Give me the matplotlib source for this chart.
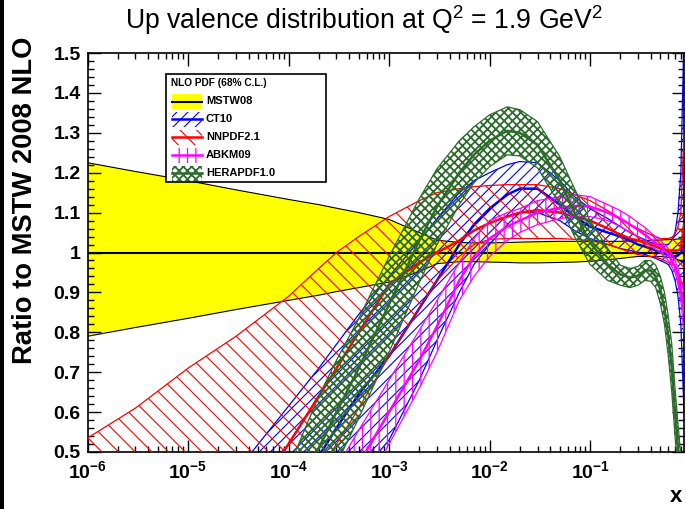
import matplotlib
matplotlib.use("Agg")
import matplotlib.pyplot as plt
from matplotlib.patches import Rectangle
from matplotlib.lines import Line2D
from matplotlib.ticker import FixedLocator, LogLocator, MultipleLocator, NullFormatter

plt.rcParams['font.family'] = ['Liberation Sans', 'DejaVu Sans']
plt.rcParams['mathtext.fontset'] = 'custom'
plt.rcParams['mathtext.rm'] = 'Liberation Sans'
plt.rcParams['mathtext.bf'] = 'Liberation Sans:bold'
plt.rcParams['mathtext.it'] = 'Liberation Sans:italic'
plt.rcParams['hatch.linewidth'] = 0.8

# ---------------- data ----------------
x = [1e-6, 3e-6, 1e-5, 3e-5, 1e-4, 2e-4, 3e-4, 5e-4, 1e-3, 2e-3, 3e-3, 5e-3, 7e-3,
     1e-2, 1.5e-2, 2e-2, 3e-2, 5e-2, 7e-2, 0.1, 0.15, 0.2, 0.25, 0.3, 0.35, 0.4, 0.45,
     0.5, 0.55, 0.6, 0.65, 0.7, 0.75, 0.8, 0.86]

mstw_up = [1.225, 1.203, 1.18, 1.157, 1.133, 1.12, 1.111, 1.1, 1.083, 1.05, 1.031, 1.025,
           1.024, 1.024, 1.025, 1.026, 1.027, 1.028, 1.028, 1.028, 1.028, 1.028, 1.029,
           1.03, 1.03, 1.03, 1.031, 1.031, 1.032, 1.032, 1.033, 1.033, 1.034, 1.034, 1.034]
mstw_c = [1.0] * 35
mstw_lo = [0.79, 0.812, 0.835, 0.857, 0.88, 0.893, 0.902, 0.912, 0.926, 0.952, 0.972, 0.977,
           0.977, 0.976, 0.975, 0.974, 0.974, 0.975, 0.976, 0.978, 0.982, 0.985, 0.988,
           0.99, 0.99, 0.99, 0.99, 0.99, 0.989, 0.988, 0.987, 0.985, 0.982, 0.978, 0.972]

ct_up = [-0.03, 0.13, 0.3, 0.45, 0.615, 0.71, 0.77, 0.845, 0.94, 1.03, 1.085, 1.15, 1.18,
         1.2, 1.22, 1.228, 1.225, 1.18, 1.14, 1.11, 1.085, 1.065, 1.05, 1.04,
         1.032, 1.025, 1.022, 1.02, 1.02, 1.02, 1.03, 1.05, 1.1, 1.2, 1.55]
ct_c = [-0.6, -0.35, -0.1, 0.2, 0.38, 0.49, 0.56, 0.645, 0.74, 0.86, 0.93, 1.02, 1.07,
        1.11, 1.145, 1.16, 1.16, 1.12, 1.09, 1.065, 1.05, 1.04, 1.03, 1.02,
        1.015, 1.01, 1.005, 1.0, 0.997, 0.995, 0.992, 0.99, 0.993, 1.0, 1.02]
ct_lo = [-1.2, -0.85, -0.5, -0.05, 0.15, 0.27, 0.35, 0.44, 0.53, 0.68, 0.78, 0.9, 0.97,
         1.02, 1.07, 1.1, 1.1, 1.08, 1.055, 1.035, 1.02, 1.01, 1.005, 1.0,
         0.995, 0.99, 0.985, 0.98, 0.975, 0.97, 0.955, 0.93, 0.89, 0.82, 0.6]

nn_up = [0.535, 0.61, 0.71, 0.79, 0.89, 0.96, 1.0, 1.04, 1.09, 1.13, 1.15, 1.16, 1.165,
         1.168, 1.17, 1.17, 1.17, 1.16, 1.145, 1.13, 1.105, 1.085, 1.07, 1.06,
         1.052, 1.045, 1.04, 1.035, 1.035, 1.035, 1.038, 1.045, 1.065, 1.1, 1.3]
nn_c = [-0.25, -0.05, 0.15, 0.32, 0.52, 0.64, 0.71, 0.8, 0.92, 0.975, 1.0, 1.03, 1.055,
        1.074, 1.09, 1.1, 1.106, 1.1, 1.09, 1.08, 1.06, 1.045, 1.035, 1.03,
        1.025, 1.02, 1.015, 1.01, 1.007, 1.005, 1.005, 1.005, 1.005, 1.01, 1.07]
nn_lo = [-1.0, -0.7, -0.4, -0.15, 0.15, 0.45, 0.52, 0.61, 0.74, 0.86, 0.93, 0.99, 1.02,
         1.033, 1.035, 1.035, 1.035, 1.035, 1.033, 1.03, 1.02, 1.01, 1.0, 0.995,
         0.992, 0.99, 0.987, 0.985, 0.98, 0.975, 0.97, 0.965, 0.945, 0.92, 0.84]

ab_up = [-1.5, -1.2, -0.8, -0.4, 0.2, 0.37, 0.46, 0.555, 0.68, 0.805, 0.88, 0.975, 1.035,
         1.08, 1.1, 1.11, 1.13, 1.14, 1.145, 1.14, 1.12, 1.105, 1.09, 1.075,
         1.063, 1.05, 1.04, 1.03, 1.02, 1.01, 0.997, 0.98, 0.96, 0.93, 0.9]
ab_c = [-1.75, -1.4, -1.0, -0.6, 0.05, 0.25, 0.36, 0.47, 0.6, 0.73, 0.815, 0.93, 0.99,
        1.035, 1.065, 1.08, 1.1, 1.112, 1.117, 1.115, 1.1, 1.085, 1.07, 1.057,
        1.045, 1.033, 1.024, 1.015, 1.005, 0.995, 0.98, 0.965, 0.94, 0.905, 0.85]
ab_lo = [-2.0, -1.6, -1.2, -0.8, -0.1, 0.13, 0.26, 0.38, 0.52, 0.66, 0.75, 0.88, 0.94,
         0.99, 1.03, 1.05, 1.07, 1.085, 1.09, 1.09, 1.08, 1.065, 1.05, 1.04,
         1.028, 1.015, 1.008, 1.0, 0.99, 0.98, 0.965, 0.95, 0.92, 0.88, 0.8]

he_up = [-1.3, -0.9, -0.5, -0.05, 0.46, 0.64, 0.73, 0.835, 0.99, 1.135, 1.21, 1.28, 1.315,
         1.345, 1.365, 1.358, 1.328, 1.24, 1.16, 1.08, 1.01, 0.968, 0.96, 0.965,
         0.98, 0.98, 0.968, 0.94, 0.9, 0.84, 0.77, 0.66, 0.57, 0.49, 0.38]
he_c = [-1.5, -1.1, -0.7, -0.2, 0.33, 0.51, 0.6, 0.71, 0.87, 1.03, 1.115, 1.2, 1.245,
        1.28, 1.305, 1.3, 1.27, 1.18, 1.1, 1.025, 0.97, 0.945, 0.937, 0.942,
        0.955, 0.955, 0.94, 0.906, 0.86, 0.79, 0.71, 0.6, 0.51, 0.42, 0.3]
he_lo = [-1.7, -1.3, -0.9, -0.35, 0.2, 0.38, 0.47, 0.585, 0.75, 0.925, 1.02, 1.12, 1.175,
         1.215, 1.245, 1.242, 1.212, 1.12, 1.04, 0.97, 0.93, 0.918, 0.912, 0.918,
         0.93, 0.928, 0.912, 0.872, 0.82, 0.74, 0.65, 0.54, 0.45, 0.35, 0.22]

labels = ["MSTW08", "CT10", "NNPDF2.1", "ABKM09", "HERAPDF1.0"]
legend_title = "NLO PDF (68% C.L.)"
ytick_vals = [0.5, 0.6, 0.7, 0.8, 0.9, 1.0, 1.1, 1.2, 1.3, 1.4, 1.5]
ytick_labels = ["0.5", "0.6", "0.7", "0.8", "0.9", "1", "1.1", "1.2", "1.3", "1.4", "1.5"]
xtick_vals = [1e-6, 1e-5, 1e-4, 1e-3, 1e-2, 1e-1]
xtick_labels = [r"$\mathbf{10^{-6}}$", r"$\mathbf{10^{-5}}$", r"$\mathbf{10^{-4}}$",
                r"$\mathbf{10^{-3}}$", r"$\mathbf{10^{-2}}$", r"$\mathbf{10^{-1}}$"]

# ---------------- figure ----------------
W, H = 686, 509
fig = plt.figure(figsize=(W / 100, H / 100), dpi=100)
L, R, B, T = 87.5, 684, 452, 53
ax = fig.add_axes([L / W, 1 - B / H, (R - L) / W, (B - T) / H])

YEL = '#ffff00'
BLUE = '#0000ff'
RED = '#ff0000'
MAG = '#ff00ff'
GRN = '#2d6b2d'

# MSTW08 band
ax.fill_between(x, mstw_lo, mstw_up, facecolor=YEL, edgecolor='none', lw=0, zorder=1)
ax.plot(x, mstw_up, color='k', lw=0.8, zorder=1.1)
ax.plot(x, mstw_lo, color='k', lw=0.8, zorder=1.1)

styles = [
    ('#000000', None, 0.8, 1.5),   # MSTW08 (yellow fill)
    (BLUE, '///', 0.8, 1.8),
    (RED, '\\\\', 0.8, 1.8),
    (MAG, '||', 0.9, 1.8),
    (GRN, 'xxxx', 1.3, 1.8),
]
series = [
    (ct_lo, ct_c, ct_up),
    (nn_lo, nn_c, nn_up),
    (ab_lo, ab_c, ab_up),
    (he_lo, he_c, he_up),
]
z = 2
for (lo, c, up), (col, h, hlw, clw) in zip(series, styles[1:]):
    with plt.rc_context({'hatch.linewidth': hlw}):
        ax.fill_between(x, lo, up, facecolor='none', edgecolor=col, hatch=h, lw=0, zorder=z)
    ax.plot(x, up, color=col, lw=0.9, zorder=z + 0.1)
    ax.plot(x, lo, color=col, lw=0.9, zorder=z + 0.1)
    ax.plot(x, c, color=col, lw=clw, zorder=z + 0.2)
    z += 1
ax.plot(x, mstw_c, color='k', lw=1.5, zorder=1.2)

ax.set_xscale('log')
ax.set_xlim(1e-6, 0.86)
ax.set_ylim(0.5, 1.5)

ax.xaxis.set_major_locator(FixedLocator(xtick_vals))
ax.set_xticklabels(xtick_labels)
ax.xaxis.set_minor_locator(LogLocator(base=10, subs=[2, 3, 4, 5, 6, 7, 8, 9], numticks=20))
ax.xaxis.set_minor_formatter(NullFormatter())
ax.set_yticks(ytick_vals)
ax.set_yticklabels(ytick_labels)
ax.yaxis.set_minor_locator(MultipleLocator(0.02))

ax.tick_params(which='both', direction='in', top=True, right=True, width=1.0, colors='k')
ax.tick_params(which='major', length=9)
ax.tick_params(which='minor', length=4.5)
ax.tick_params(axis='x', which='major', labelsize=14, pad=6)
ax.tick_params(axis='y', which='major', labelsize=14, pad=5)
for lab in ax.get_yticklabels():
    lab.set_fontweight('bold')
for sp in ax.spines.values():
    sp.set_linewidth(1.2)

# ---------------- legend box (ROOT TLegend style) ----------------
def fx(px):
    return px / W

def fy(py):
    return 1 - py / H

box_l, box_t, box_r, box_b = 166, 74, 326, 182
fig.add_artist(Rectangle((fx(box_l), fy(box_b)), fx(box_r) - fx(box_l), fy(box_t) - fy(box_b),
                         transform=fig.transFigure, facecolor='white', edgecolor='k',
                         lw=1.2, zorder=20))
fig.text(fx(171), fy(83), legend_title, ha='left', va='center', fontsize=7.3,
         fontweight='bold', zorder=21)
row0, dy = 101.5, 17.9
for i, (lab, (col, h, hlw, clw)) in enumerate(zip(labels, styles)):
    yc = row0 + i * dy
    if h is None:
        fig.add_artist(Rectangle((fx(172), fy(yc + 7.5)), fx(202) - fx(172), 15 / H,
                                 transform=fig.transFigure, facecolor=YEL,
                                 edgecolor='none', lw=0, zorder=21))
    else:
        with plt.rc_context({'hatch.linewidth': hlw}):
            fig.add_artist(Rectangle((fx(172), fy(yc + 7.5)), fx(202) - fx(172), 15 / H,
                                     transform=fig.transFigure, facecolor='none',
                                     edgecolor=col, hatch=h, lw=0, zorder=21))
    fig.add_artist(Line2D([fx(172), fx(202)], [fy(yc), fy(yc)], transform=fig.transFigure,
                          color=col, lw=clw, zorder=22))
    fig.text(fx(206), fy(yc), lab, ha='left', va='center', fontsize=8, fontweight='bold',
             zorder=22)

# texts
fig.text(364 / W, 1 - 20 / H, r'Up valence distribution at Q$^{2}$ = 1.9 GeV$^{2}$',
         ha='center', va='center', fontsize=19.2)
fig.text(25 / W, 1 - 200 / H, 'Ratio to MSTW 2008 NLO', rotation=90, ha='center',
         va='center', fontsize=19.7, fontweight='bold')
fig.text(676 / W, 1 - 496 / H, 'x', ha='center', va='center', fontsize=16, fontweight='bold')

fig.add_artist(Rectangle((0, 0), 4 / W, 1, transform=fig.transFigure, facecolor='k',
                         edgecolor='none'))

fig.savefig('out.png', dpi=100)
